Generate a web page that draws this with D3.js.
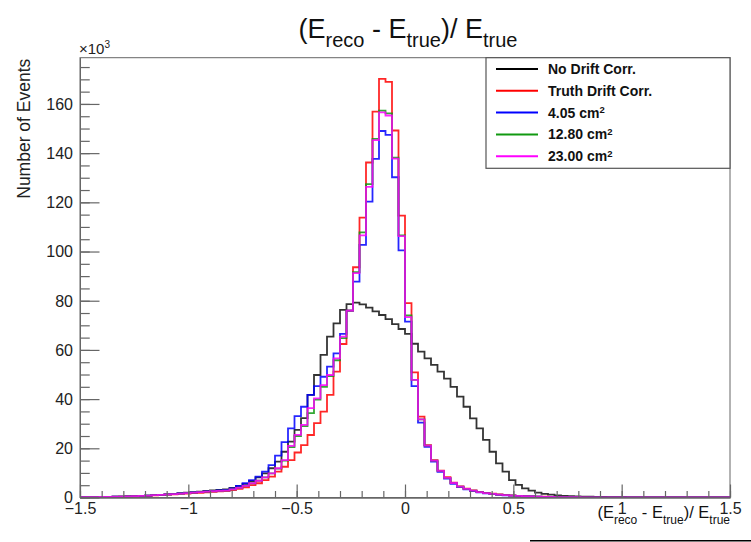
<!DOCTYPE html>
<html>
<head>
<meta charset="utf-8">
<script src="https://cdn.jsdelivr.net/npm/d3@7"></script>
<style>
  html, body { margin: 0; padding: 0; background: #fff; }
  svg { display: block; font-family: "Liberation Sans", Arial, Helvetica, sans-serif; }
</style>
</head>
<body>
<svg id="chart" width="751" height="542"></svg>
<script>
// ---- data (counts in thousands, 100 bins of width 0.03 from -1.5 to 1.5) ----
const xMin = -1.5, xMax = 1.5, binWidth = 0.03;
const yMax = 178.8;

const noDriftCorr = [
  0.1,0.1,0.15,0.2,0.25,0.3,0.35,0.45,0.55,0.65,
  0.8,0.95,1.1,1.3,1.5,1.75,2.0,2.2,2.4,2.65,
  2.9,3.1,3.3,3.9,4.7,5.5,6.7,8.2,9.8,11.9,
  14.6,18.6,22.7,27.5,32.3,41.7,49.8,58.0,65.4,70.8,
  76.3,78.6,79.2,78.5,77.2,75.7,74.2,72.5,70.5,68.5,
  66.5,62.5,59.3,56.6,53.9,51.2,48.3,45.0,41.0,36.9,
  32.2,28.1,23.4,18.6,13.9,10.5,7.1,5.1,3.7,2.8,
  2.0,1.5,1.2,0.9,0.7,0.55,0.45,0.35,0.3,0.25,
  0.2,0.15,0.12,0.1,0.08,0.06,0.05,0.04,0.03,0.02,
  0.02,0.01,0.01,0.01,0,0,0,0,0,0
];
const truthDriftCorr = [
  0.05,0.1,0.1,0.15,0.2,0.25,0.3,0.4,0.5,0.6,
  0.7,0.85,1.0,1.15,1.3,1.45,1.6,1.75,1.9,2.1,
  2.3,2.45,2.6,3.0,3.5,4.1,5.0,5.8,7.1,8.5,
  10.5,12.5,15.2,18.3,21.3,25.4,30.2,34.9,41.7,51.2,
  62.4,76.0,93.6,113.8,136.2,156.9,170.2,169.0,149.2,114.6,
  79.0,50.9,32.9,21.3,15.2,10.9,8.3,6.0,4.5,3.6,
  2.9,2.3,1.9,1.6,1.3,1.05,0.85,0.7,0.55,0.45,
  0.38,0.3,0.25,0.2,0.17,0.14,0.12,0.1,0.08,0.07,
  0.06,0.05,0.04,0.03,0.03,0.02,0.02,0.01,0.01,0,
  0,0,0,0,0,0,0,0,0,0
];
const corr405 = [
  0.1,0.1,0.15,0.2,0.25,0.3,0.35,0.45,0.55,0.65,
  0.8,0.95,1.1,1.3,1.5,1.7,1.9,2.1,2.3,2.5,
  2.7,2.9,3.1,3.7,4.7,5.8,7.1,8.5,10.5,13.2,
  17.0,22.5,28.1,33.1,36.9,41.7,45.3,49.1,53.2,58.6,
  66.5,76.0,87.8,102.7,120.3,137.7,149.0,147.4,130.2,100.5,
  71.5,45.3,30.4,20.6,14.6,10.4,7.7,5.6,4.2,3.3,
  2.6,2.1,1.7,1.4,1.1,0.9,0.75,0.6,0.5,0.4,
  0.33,0.27,0.22,0.18,0.15,0.12,0.1,0.09,0.07,0.06,
  0.05,0.04,0.03,0.03,0.02,0.02,0.01,0.01,0,0,
  0,0,0,0,0,0,0,0,0,0
];
const corr1280 = [
  0.1,0.1,0.15,0.2,0.25,0.3,0.35,0.45,0.55,0.65,
  0.8,0.95,1.1,1.25,1.4,1.6,1.8,2.0,2.2,2.4,
  2.55,2.7,2.8,3.3,3.9,4.7,5.8,6.8,8.2,9.8,
  11.7,15.0,20.5,25.0,29.0,34.3,39.8,45.0,49.4,55.8,
  64.8,76.0,91.6,107.8,127.4,145.8,157.3,156.2,138.2,106.6,
  74.0,47.8,31.8,21.1,15.0,10.8,8.0,5.9,4.4,3.5,
  2.8,2.2,1.8,1.5,1.2,1.0,0.8,0.65,0.52,0.43,
  0.36,0.29,0.24,0.19,0.16,0.13,0.11,0.09,0.08,0.07,
  0.06,0.05,0.04,0.03,0.03,0.02,0.02,0.01,0.01,0,
  0,0,0,0,0,0,0,0,0,0
];
const corr2300 = [
  0.1,0.1,0.15,0.2,0.25,0.3,0.35,0.45,0.55,0.65,
  0.8,0.95,1.1,1.25,1.4,1.6,1.8,2.0,2.2,2.4,
  2.55,2.7,2.8,3.3,3.9,4.7,5.8,6.8,8.2,9.8,
  11.9,15.2,21.0,25.5,29.5,36.3,40.3,45.7,49.8,56.6,
  65.4,76.0,91.2,106.6,126.3,145.3,156.6,155.3,137.8,106.3,
  73.3,47.8,31.8,21.1,15.0,10.8,8.0,5.9,4.4,3.5,
  2.8,2.2,1.8,1.5,1.2,1.0,0.8,0.65,0.52,0.43,
  0.36,0.29,0.24,0.19,0.16,0.13,0.11,0.09,0.08,0.07,
  0.06,0.05,0.04,0.03,0.03,0.02,0.02,0.01,0.01,0,
  0,0,0,0,0,0,0,0,0,0
];

const seriesNames = ["No Drift Corr.", "Truth Drift Corr.", "4.05 cm", "12.80 cm", "23.00 cm"];
const seriesSup = ["", "", "2", "2", "2"];
const seriesColors = ["#000000", "#ff0000", "#0000ff", "#119911", "#ff00ff"];
const seriesValues = [noDriftCorr, truthDriftCorr, corr405, corr1280, corr2300];

const xTickValues = [-1.5, -1, -0.5, 0, 0.5, 1, 1.5];
const yTickValues = [0, 20, 40, 60, 80, 100, 120, 140, 160];

// ---- layout ----
const svg = d3.select("#chart");
const frame = { left: 80, right: 730, top: 57.7, bottom: 497.5 };

const x = d3.scaleLinear().domain([xMin, xMax]).range([frame.left, frame.right]);
const y = d3.scaleLinear().domain([0, yMax]).range([frame.bottom, frame.top]);

// frame
svg.append("rect")
  .attr("x", frame.left).attr("y", frame.top)
  .attr("width", frame.right - frame.left).attr("height", frame.bottom - frame.top)
  .attr("fill", "none").attr("stroke", "#666").attr("stroke-width", 1);

// histograms
const clip = svg.append("clipPath").attr("id", "clip")
  .append("rect").attr("x", frame.left).attr("y", frame.top)
  .attr("width", frame.right - frame.left).attr("height", frame.bottom - frame.top);

const line = d3.line().x(d => x(d[0])).y(d => y(d[1]));
const histG = svg.append("g").attr("clip-path", "url(#clip)");
seriesValues.forEach((vals, i) => {
  const pts = [];
  vals.forEach((v, k) => {
    const lo = xMin + k * binWidth, hi = lo + binWidth;
    pts.push([lo, v]);
    pts.push([hi, v]);
  });
  histG.append("path")
    .attr("d", line(pts))
    .attr("fill", "none")
    .attr("stroke", seriesColors[i])
    .attr("stroke-width", 1.8)
    .attr("stroke-opacity", i === 0 ? 0.8 : 0.85)
    .attr("stroke-linejoin", "miter");
});

// axes
const fmt = d => (d < 0 ? "\u2212" : "") + Math.abs(d);
const axisColor = "#666";

const xAxis = svg.append("g").attr("transform", `translate(0,${frame.bottom})`)
  .call(d3.axisBottom(x).tickValues(xTickValues).tickFormat(fmt).tickSize(-13).tickSizeOuter(0).tickPadding(5));
const xMinor = svg.append("g").attr("transform", `translate(0,${frame.bottom})`)
  .call(d3.axisBottom(x).tickValues(d3.range(-15, 16).map(d => d / 10)).tickFormat("").tickSize(-6.5).tickSizeOuter(0));

const yAxis = svg.append("g").attr("transform", `translate(${frame.left},0)`)
  .call(d3.axisLeft(y).tickValues(yTickValues).tickFormat(d3.format("d")).tickSize(-19.5).tickSizeOuter(0).tickPadding(7));
const yMinor = svg.append("g").attr("transform", `translate(${frame.left},0)`)
  .call(d3.axisLeft(y).tickValues(d3.range(0, 180, 5)).tickFormat("").tickSize(-9.75).tickSizeOuter(0));

[xAxis, xMinor, yAxis, yMinor].forEach(g => {
  g.selectAll("path").attr("stroke", axisColor);
  g.selectAll("line").attr("stroke", axisColor).attr("stroke-width", 1.2);
  g.selectAll("text").attr("fill", "#222").style("font-size", "16px")
    .style("font-family", '"Liberation Sans", Arial, sans-serif');
});
yAxis.selectAll("text").attr("dy", "0.34em");

// x10^3
const expo = svg.append("text").attr("x", 79).attr("y", 54)
  .attr("fill", "#222").style("font-size", "15px");
expo.append("tspan").text("\u00d710");
expo.append("tspan").attr("dy", -6).style("font-size", "10px").text("3");

// y axis title
svg.append("text")
  .attr("transform", `translate(30,${frame.top + 1}) rotate(-90)`)
  .attr("text-anchor", "end")
  .attr("fill", "#222").style("font-size", "17.5px")
  .text("Number of Events");

// title helper for E_reco - E_true / E_true
function eqText(sel, mainSize, subSize, subDy) {
  const parts = [["(E", false], ["reco", true], [" - E", false], ["true", true], [")/ E", false], ["true", true]];
  let sub = false;
  parts.forEach(([t, isSub]) => {
    const ts = sel.append("tspan").text(t).style("font-size", (isSub ? subSize : mainSize) + "px");
    if (isSub && !sub) ts.attr("dy", subDy);
    if (!isSub && sub) ts.attr("dy", -subDy);
    sub = isSub;
  });
}

const title = svg.append("text").attr("x", 408).attr("y", 38)
  .attr("text-anchor", "middle").attr("fill", "#111")
  .style("white-space", "pre");
eqText(title, 27, 20, 9);

const xTitle = svg.append("text").attr("x", 730).attr("y", 518)
  .attr("text-anchor", "end").attr("fill", "#111")
  .style("white-space", "pre");
eqText(xTitle, 16.5, 12, 6);

// legend
const leg = { x: 486, y: frame.top, w: frame.right - 486, h: 110.6 };
svg.append("rect").attr("x", leg.x).attr("y", leg.y).attr("width", leg.w).attr("height", leg.h)
  .attr("fill", "#fff").attr("stroke", "#555").attr("stroke-width", 1.2);
seriesNames.forEach((name, i) => {
  const cy = 69 + 21.8 * i;
  svg.append("line").attr("x1", 496).attr("x2", 538).attr("y1", cy).attr("y2", cy)
    .attr("stroke", seriesColors[i]).attr("stroke-width", 2);
  const t = svg.append("text").attr("x", 548).attr("y", cy).attr("dy", "0.35em")
    .attr("fill", "#111").style("font-size", "14px").style("font-weight", "bold");
  t.append("tspan").text(name);
  if (seriesSup[i]) t.append("tspan").attr("dy", "-0.45em").style("font-size", "9.5px").text(seriesSup[i]);
});

// thin rule at the bottom-right edge of the picture
svg.append("line").attr("x1", 530).attr("x2", 751).attr("y1", 540.8).attr("y2", 540.8)
  .attr("stroke", "#000").attr("stroke-width", 1.5);
</script>
</body>
</html>
